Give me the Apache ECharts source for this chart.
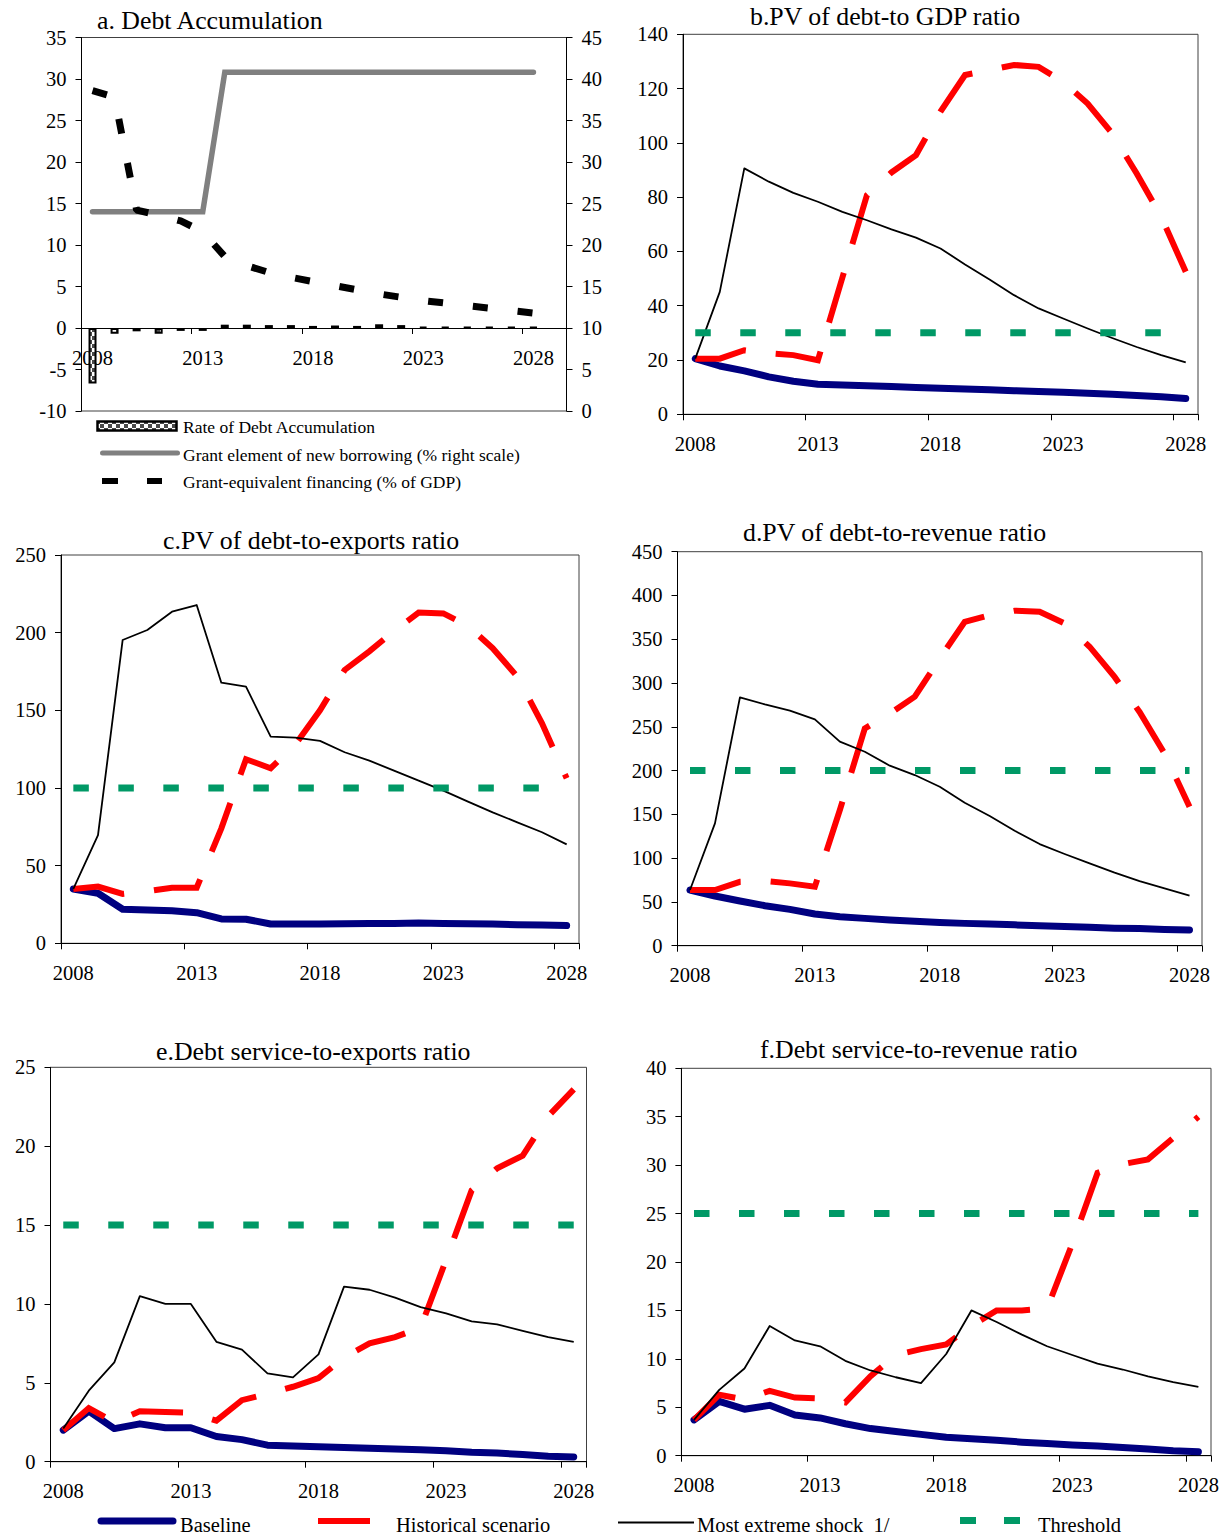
<!DOCTYPE html>
<html>
<head>
<meta charset="utf-8">
<script src="https://cdn.jsdelivr.net/npm/echarts/dist/echarts.min.js"></script>
<style>
html,body{margin:0;padding:0;background:#ffffff;}
#chart{width:1225px;height:1535px;}
</style>
</head>
<body>
<div id="chart"></div>
<script>
// ---------------- DATA ----------------
const years = ['2008','2009','2010','2011','2012','2013','2014','2015','2016','2017','2018',
               '2019','2020','2021','2022','2023','2024','2025','2026','2027','2028'];
// panel a has one empty slot after 2028 on its category axis
const yearsA = years.concat(['']);

// a. Debt Accumulation
const debtAccumulation = [-6.7,-0.7,-0.4,-0.7,-0.35,-0.35,0.4,0.4,0.35,0.35,0.25,0.3,0.25,0.45,0.35,0.15,0.1,0.1,0.1,0.1,0.1];
const grantElement     = [24,24,24,24,24,24,40.8,40.8,40.8,40.8,40.8,40.8,40.8,40.8,40.8,40.8,40.8,40.8,40.8,40.8,40.8];
const grantEquivalent  = [28.6,27.8,14.2,13.6,12.9,11.6,8.6,7.5,6.7,6.1,5.6,5.1,4.6,4.1,3.7,3.3,3.0,2.7,2.4,2.1,1.8];

// b. PV of debt-to GDP ratio
const gdpBaseline   = [20.5,17.8,16.0,13.8,12.2,11.1,10.8,10.5,10.2,9.9,9.6,9.3,9.0,8.7,8.4,8.1,7.8,7.4,6.9,6.5,5.8];
const gdpHistorical = [20.5,20.5,23.6,22.5,21.8,19.9,50.4,80.7,89.1,95.5,111.5,125.0,126.8,128.7,128.0,122.5,114.5,103.5,88.7,72.8,52.5];
const gdpShock      = [20.5,45.1,90.6,85.7,81.6,78.3,74.6,71.5,68.1,65.1,61.1,55.2,49.7,43.9,39.0,35.3,31.6,28.1,24.8,21.8,19.1];
const gdpThreshold  = [30,30,30,30,30,30,30,30,30,30,30,30,30,30,30,30,30,30,30,30,30];

// c. PV of debt-to-exports ratio
const expBaseline   = [35.0,32.2,21.9,21.5,21.0,19.7,15.7,15.5,12.4,12.4,12.5,12.6,12.7,12.8,13.0,12.8,12.6,12.4,12.0,11.8,11.4];
const expHistorical = [35.0,36.5,31.8,33.5,35.8,35.8,74.0,118.5,112.7,128.0,150.0,176.0,188.0,201.0,212.9,212.4,204.3,190.0,171.7,141.6,106.2];
const expShock      = [35.0,69.7,195.3,201.7,213.5,217.8,167.8,165.2,133.0,132.4,130.3,123.0,117.6,111.2,104.7,98.3,91.2,84.3,77.9,71.5,63.7];
const expThreshold  = [100,100,100,100,100,100,100,100,100,100,100,100,100,100,100,100,100,100,100,100,100];

// d. PV of debt-to-revenue ratio
const revBaseline   = [63.6,56.7,51.0,45.7,41.5,36.2,33.1,31.2,29.3,27.8,26.6,25.5,24.7,23.8,22.8,21.9,21.0,20.0,19.6,18.5,17.9];
const revHistorical = [63.6,63.6,73.0,73.8,71.2,67.4,155.0,248.2,265.0,284.4,328.0,370.0,377.6,382.6,381.4,368.0,341.5,307.0,267.0,219.6,158.7];
const revShock      = [63.6,139.7,283.6,275.6,268.4,258.5,233.0,221.5,205.6,194.9,181.6,163.3,148.1,131.3,116.1,104.7,94.0,83.4,73.8,65.5,57.1];
const revThreshold  = [200,200,200,200,200,200,200,200,200,200,200,200,200,200,200,200,200,200,200,200,200];

// e. Debt service-to-exports ratio
const dsExpBaseline   = [2.0,3.2,2.1,2.4,2.15,2.15,1.6,1.4,1.05,1.0,0.95,0.9,0.85,0.8,0.75,0.7,0.6,0.55,0.45,0.35,0.3];
const dsExpHistorical = [2.0,3.4,2.5,3.2,3.15,3.1,2.6,3.9,4.3,4.75,5.3,6.6,7.5,7.9,8.5,12.8,17.2,18.6,19.4,21.9,23.6];
const dsExpShock      = [2.1,4.5,6.3,10.5,10.0,10.0,7.6,7.1,5.6,5.35,6.8,11.1,10.9,10.4,9.8,9.4,8.9,8.7,8.3,7.9,7.6];
const dsExpThreshold  = [15,15,15,15,15,15,15,15,15,15,15,15,15,15,15,15,15,15,15,15,15];

// f. Debt service-to-revenue ratio
const dsRevBaseline   = [3.7,5.6,4.8,5.2,4.2,3.9,3.3,2.8,2.5,2.2,1.9,1.75,1.6,1.4,1.25,1.1,1.0,0.85,0.7,0.5,0.4];
const dsRevHistorical = [3.7,6.3,5.8,6.7,6.0,5.9,5.5,8.2,10.4,11.0,11.5,13.4,15.0,15.0,15.2,21.9,29.2,30.1,30.6,32.8,35.0];
const dsRevShock      = [3.7,6.8,9.0,13.4,11.9,11.3,9.8,8.8,8.1,7.5,10.5,15.0,13.8,12.5,11.3,10.4,9.5,8.9,8.2,7.6,7.1];
const dsRevThreshold  = [25,25,25,25,25,25,25,25,25,25,25,25,25,25,25,25,25,25,25,25,25];

const panelTitles = ['a. Debt Accumulation','b.PV of debt-to GDP ratio','c.PV of debt-to-exports ratio',
                     'd.PV of debt-to-revenue ratio','e.Debt service-to-exports ratio','f.Debt service-to-revenue ratio'];
const legendA = ['Rate of Debt Accumulation','Grant element of new borrowing (% right scale)','Grant-equivalent financing (% of GDP)'];
const legendMain = ['Baseline','Historical scenario','Most extreme shock  1/','Threshold'];

// ---------------- STYLE ----------------
const FONT = '"Liberation Serif","Times New Roman",serif';
const TICK_FS = 20.5;
const NAVY = '#000080', RED = '#ff0000', GREEN = '#009966', GRAY = '#808080';

function checkerCanvas(){
  const c = document.createElement('canvas');
  c.width = 8; c.height = 8;
  const g = c.getContext('2d');
  g.fillStyle = '#ffffff'; g.fillRect(0,0,8,8);
  g.fillStyle = '#4a4a4a'; g.fillRect(4,0,4,4); g.fillRect(0,4,4,4);
  return c;
}
const checker = checkerCanvas();
const checkerPattern = {image: checker, repeat: 'repeat', imageWidth: 8, imageHeight: 8};

const grids = [
  {left: 81.5, top: 37.5, width: 485, height: 373.5},
  {left: 683, top: 34.3, width: 515, height: 380},
  {left: 61, top: 555, width: 518, height: 388.3},
  {left: 677.5, top: 551.7, width: 524.5, height: 394},
  {left: 50.5, top: 1067.3, width: 536, height: 394.4},
  {left: 681.4, top: 1068.3, width: 529.6, height: 387.4}
].map(g => Object.assign({show: true, borderColor: '#404040', borderWidth: 1, backgroundColor: 'transparent'}, g));

function xAxis(gridIndex, data, offset){
  return {
    type: 'category', gridIndex, data, boundaryGap: true, position: 'bottom', offset: offset || 0,
    axisLine: {show: true, onZero: false, lineStyle: {color: '#000', width: 1}},
    axisTick: {show: true, interval: 4, length: 6, inside: false, lineStyle: {color: '#000', width: 1}},
    axisLabel: {show: true, interval: 4, margin: 19, color: '#000', fontFamily: FONT, fontSize: TICK_FS},
    splitLine: {show: false}
  };
}
function yAxis(gridIndex, min, max, interval, position){
  return {
    type: 'value', gridIndex, min, max, interval, position: position || 'left',
    axisLine: {show: true, onZero: false, lineStyle: {color: '#000', width: 1}},
    axisTick: {show: true, length: 6, inside: false, lineStyle: {color: '#000', width: 1}},
    axisLabel: {show: true, margin: 15, color: '#000', fontFamily: FONT, fontSize: TICK_FS},
    splitLine: {show: false}
  };
}

// panel a: the category axis sits on the zero line of the left scale (-10..35)
const aMin = -10, aMax = 35;
const aZeroOffset = -grids[0].height * (0 - aMin) / (aMax - aMin);

const xAxes = [xAxis(0, yearsA, aZeroOffset), xAxis(1, years), xAxis(2, years), xAxis(3, years), xAxis(4, years), xAxis(5, years)];
const yAxes = [
  yAxis(0, aMin, aMax, 5, 'left'),
  yAxis(0, 0, 45, 5, 'right'),
  yAxis(1, 0, 140, 20),
  yAxis(2, 0, 250, 50),
  yAxis(3, 0, 450, 50),
  yAxis(4, 0, 25, 5),
  yAxis(5, 0, 40, 5)
];

function lineSeries(name, data, xi, yi, lineStyle, z){
  return {name, type: 'line', xAxisIndex: xi, yAxisIndex: yi, data, symbol: 'none', showSymbol: false,
          smooth: false, lineStyle, z: z, silent: true, animation: false};
}
function panelSeries(xi, yi, base, hist, shock, thr){
  return [
    lineSeries('Baseline', base, xi, yi, {color: NAVY, width: 7, cap: 'round', join: 'round'}, 2),
    lineSeries('Historical scenario', hist, xi, yi, {color: RED, width: 6, type: [52, 30], cap: 'butt', join: 'miter'}, 3),
    lineSeries('Most extreme shock  1/', shock, xi, yi, {color: '#000', width: 1.8, join: 'round'}, 4),
    lineSeries('Threshold', thr, xi, yi, {color: GREEN, width: 7, type: [15.5, 29.5], cap: 'butt'}, 5)
  ];
}

const series = [
  {name: legendA[0], type: 'bar', xAxisIndex: 0, yAxisIndex: 0, data: debtAccumulation, barWidth: 8,
   itemStyle: {color: checkerPattern, borderColor: '#000', borderWidth: 2}, z: 2, silent: true, animation: false},
  lineSeries(legendA[1], grantElement, 0, 1, {color: GRAY, width: 5.5, cap: 'round', join: 'miter'}, 3),
  lineSeries(legendA[2], grantEquivalent, 0, 0, {color: '#000', width: 7, type: [15, 30], cap: 'butt'}, 4)
].concat(
  panelSeries(1, 2, gdpBaseline, gdpHistorical, gdpShock, gdpThreshold),
  panelSeries(2, 3, expBaseline, expHistorical, expShock, expThreshold),
  panelSeries(3, 4, revBaseline, revHistorical, revShock, revThreshold),
  panelSeries(4, 5, dsExpBaseline, dsExpHistorical, dsExpShock, dsExpThreshold),
  panelSeries(5, 6, dsRevBaseline, dsRevHistorical, dsRevShock, dsRevThreshold)
);

const titlePos = [[97, 7], [750, 3], [163, 527], [743, 519], [156, 1038], [760, 1036]];
const titles = panelTitles.map((t, i) => ({
  text: t, left: titlePos[i][0], top: titlePos[i][1], padding: 0,
  textStyle: {fontFamily: FONT, fontSize: 25.8, fontWeight: 'normal', color: '#000'}
}));

function txt(text, x, y, size){
  return {type: 'text', x, y, silent: true,
          style: {text, fill: '#000', font: size + 'px ' + FONT, verticalAlign: 'middle', align: 'left'}};
}
const graphics = [
  // panel a legend
  {type: 'rect', shape: {x: 97.5, y: 421.5, width: 79, height: 9}, style: {fill: checkerPattern, stroke: '#000', lineWidth: 2.5}, silent: true},
  txt(legendA[0], 183, 427, 17.5),
  {type: 'line', shape: {x1: 102.5, y1: 453, x2: 177.5, y2: 453}, style: {stroke: GRAY, lineWidth: 5, lineCap: 'round'}, silent: true},
  txt(legendA[1], 183, 455, 17.5),
  {type: 'rect', shape: {x: 102, y: 478, width: 16, height: 6}, style: {fill: '#000'}, silent: true},
  {type: 'rect', shape: {x: 147, y: 478, width: 15, height: 6}, style: {fill: '#000'}, silent: true},
  txt(legendA[2], 183, 482, 17.5),
  // bottom legend
  {type: 'line', shape: {x1: 101, y1: 1521, x2: 173, y2: 1521}, style: {stroke: NAVY, lineWidth: 7, lineCap: 'round'}, silent: true},
  txt(legendMain[0], 180, 1524.5, 20.5),
  {type: 'rect', shape: {x: 318, y: 1518, width: 52, height: 6}, style: {fill: RED}, silent: true},
  txt(legendMain[1], 396, 1524.5, 20.5),
  {type: 'line', shape: {x1: 618, y1: 1522.5, x2: 694, y2: 1522.5}, style: {stroke: '#000', lineWidth: 2}, silent: true},
  txt(legendMain[2], 697, 1524.5, 20.5),
  {type: 'rect', shape: {x: 960, y: 1517, width: 16, height: 7}, style: {fill: GREEN}, silent: true},
  {type: 'rect', shape: {x: 1004, y: 1517, width: 16, height: 7}, style: {fill: GREEN}, silent: true},
  txt(legendMain[3], 1038, 1524.5, 20.5)
];

const chart = echarts.init(document.getElementById('chart'), null, {renderer: 'svg', width: 1225, height: 1535});
chart.setOption({
  animation: false,
  backgroundColor: '#ffffff',
  title: titles,
  grid: grids,
  xAxis: xAxes,
  yAxis: yAxes,
  series: series,
  graphic: graphics,
  tooltip: {show: false}
});
</script>
</body>
</html>
